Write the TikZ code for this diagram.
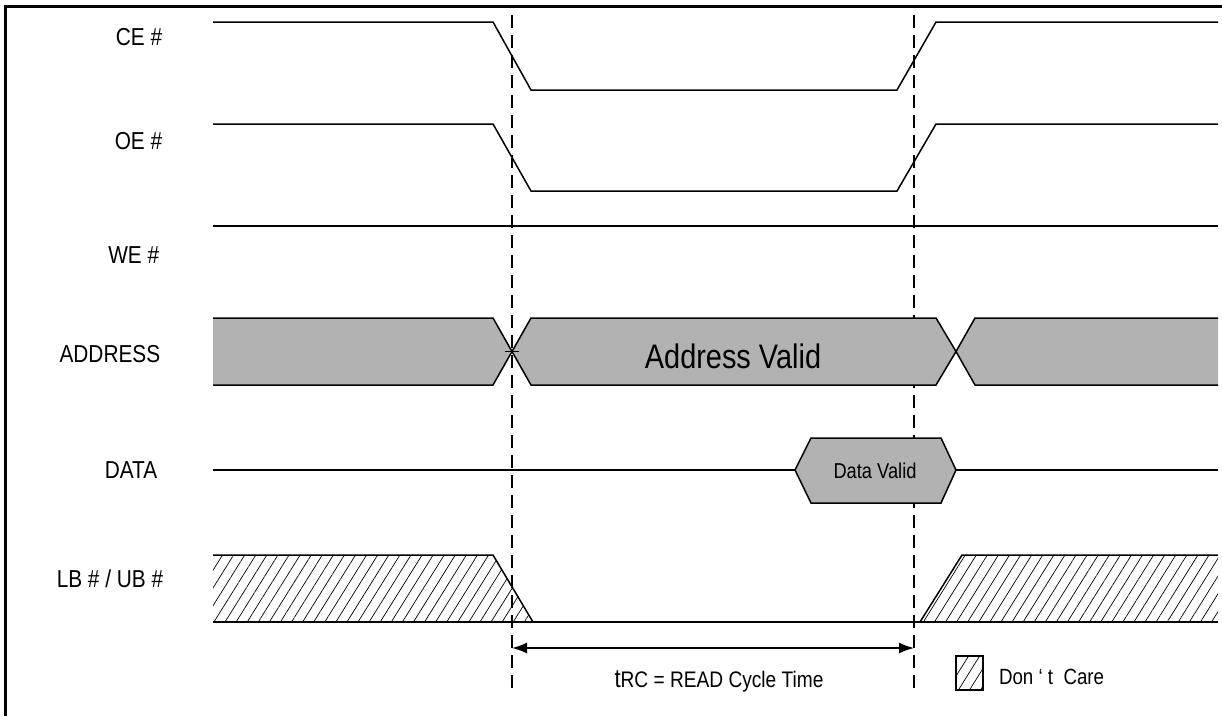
\documentclass[tikz,border=0pt]{standalone}
\usepackage{fontspec}
\setmainfont{Liberation Sans}[FakeStretch=0.85]
\usetikzlibrary{arrows.meta, patterns.meta}

\begin{document}
\begin{tikzpicture}[x = 1pt, y = -1pt, > = {Latex[length = 15pt, width = 11pt]}, line width = 1.5pt]
\tikzset{
  bus/.style = {fill = black!30},
  dontcare/.style = {pattern = {Lines[angle = 58, distance = 9.4pt, line width = 0.7pt]}},
  marker/.style = {dash pattern = on 13pt off 7pt},
  sigName/.style = {anchor = east, inner sep = 0pt, font = \fontsize{24.5}{28}\selectfont},
}
\useasboundingbox (0,0) rectangle (1222,716);
\draw [line width = 3pt] (5,716) -- (5,6) -- (1222,6);
% signal names
\node [sigName] (ceName) at (163,37) {CE \#};
\node [sigName] (oeName) at (163,141) {OE \#};
\node [sigName] (weName) at (160,255) {WE \#};
\node [sigName] (addressName) at (161,354) {ADDRESS};
\node [sigName] (dataName) at (158,470) {DATA};
\node [sigName] (lbubName) at (164,579) {LB \# / UB \#};
% cycle markers
\coordinate (startTop) at (512,15);
\coordinate (startBottom) at (512,688);
\coordinate (endTop) at (914,15);
\coordinate (endBottom) at (914,688);
\draw [marker] (startTop) -- (startBottom);
\draw [marker] (endTop) -- (endBottom);
% CE, OE, WE
\draw (213,22) -- (493,22) -- (531,90) -- (897,90) -- (936,22) -- (1218,22);
\draw (213,124) -- (493,124) -- (531,191) -- (897,191) -- (936,124) -- (1218,124);
\draw (213,226) -- (1218,226);
% address
\fill [bus] (213,318) -- (493,318) -- (512,351.5) -- (493,385) -- (213,385) -- cycle;
\draw (213,318) -- (493,318) -- (512,351.5) -- (493,385) -- (213,385);
\filldraw [bus] (531,318) -- (936,318) -- (956,351.5) -- (936,385) -- (531,385) -- (512,351.5) -- cycle;
\fill [bus] (1218,318) -- (975,318) -- (956,351.5) -- (975,385) -- (1218,385) -- cycle;
\draw (1218,318) -- (975,318) -- (956,351.5) -- (975,385) -- (1218,385);
\draw [line width = 1pt] (505,351.5) -- (519,351.5);
\node [font = \fontsize{34}{38}\selectfont] (addressValid) at (733,356) {Address Valid};
% data
\draw (213,470) -- (795,470);
\filldraw [bus] (795,470) -- (811,438) -- (941,438) -- (956,470) -- (941,503) -- (811,503) -- cycle;
\draw (956,470) -- (1218,470);
\node [font = \fontsize{21.5}{24}\selectfont] (dataValid) at (875,471) {Data Valid};
% byte enables
\path [dontcare] (213,555) -- (493,555) -- (533,622) -- (213,622) -- cycle;
\path [dontcare] (920,622) -- (962,555) -- (1218,555) -- (1218,622) -- cycle;
\draw (213,555) -- (493,555) -- (533,622);
\draw (920,622) -- (962,555) -- (1218,555);
\draw (213,622) -- (1218,622);
% read cycle
\coordinate (cycleStart) at (512,648);
\coordinate (cycleEnd) at (914,648);
\draw [<->] (cycleStart) -- (cycleEnd);
\node [font = \fontsize{22.5}{26}\selectfont] (cycleTime) at (719,681) {{\fontsize{26}{28}\selectfont t}RC = READ Cycle Time};
% legend
\draw [dontcare, line width = 1.2pt] (956,656) rectangle (983,690);
\node [anchor = west, font = \fontsize{22}{26}\selectfont] (dontCare) at (995,677) {Don~‘~t~~Care};
\end{tikzpicture}
\end{document}
